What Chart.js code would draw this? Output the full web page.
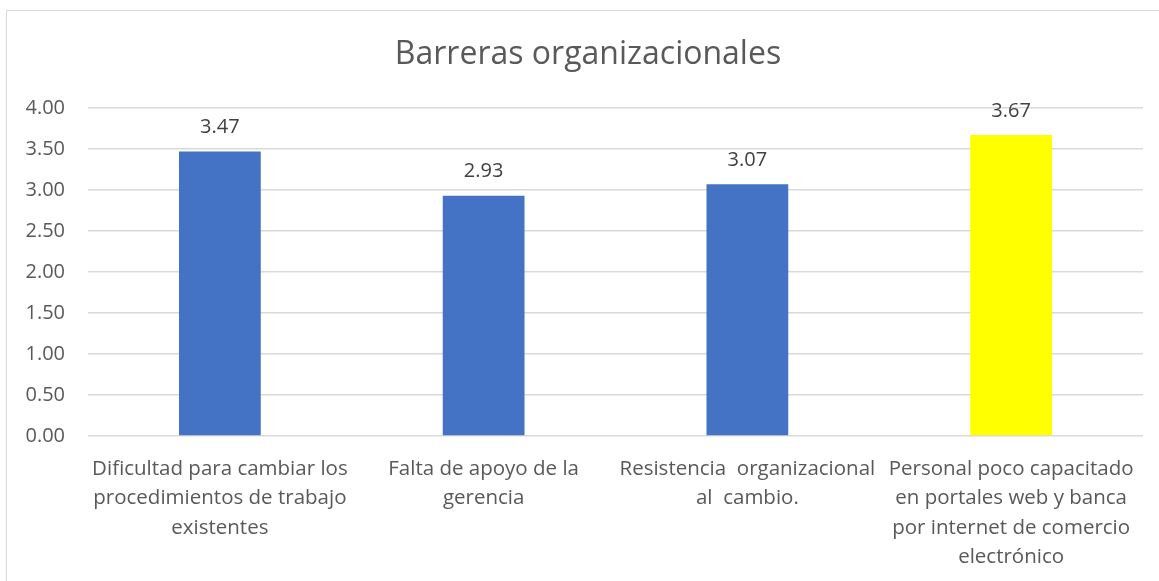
<!DOCTYPE html>
<html>
<head>
<meta charset="utf-8">
<script src="https://cdn.jsdelivr.net/npm/chart.js@4.4.1/dist/chart.umd.min.js"></script>
<style>
    html, body { margin: 0; padding: 0; background: #fff; overflow: hidden; }
    #frame {
        position: absolute; left: 6px; top: 10px; width: 1200px; height: 600px;
        border-left: 1px solid #d9d9d9; border-top: 1px solid #d9d9d9;
    }
    #wrap { position: absolute; left: 0; top: 0; width: 1159px; height: 581px; }
</style>
</head>
<body>
<div id="frame"></div>
<div id="wrap"><canvas id="chart"></canvas></div>
<script>
// Data
var chartTitle = 'Barreras organizacionales';
var categories = [
    ['Dificultad para cambiar los', 'procedimientos de trabajo', 'existentes'],
    ['Falta de apoyo de la', 'gerencia'],
    ['Resistencia  organizacional', 'al  cambio.'],
    ['Personal poco capacitado', 'en portales web y banca', 'por internet de comercio', 'electrónico']
];
var values = [3.47, 2.93, 3.07, 3.67];
var barColors = ['#4472c4', '#4472c4', '#4472c4', '#ffff00'];
var yTicks = [0, 0.5, 1, 1.5, 2, 2.5, 3, 3.5, 4];

var FONT = '"Open Sans", sans-serif';
var TEXT = '#595959';

// value labels above the bars
var valueLabels = {
    id: 'valueLabels',
    afterDatasetsDraw: function(chart) {
        var ctx = chart.ctx;
        var meta = chart.getDatasetMeta(0);
        ctx.save();
        ctx.font = '20px ' + FONT;
        ctx.fillStyle = '#404040';
        ctx.textAlign = 'center';
        ctx.textBaseline = 'middle';
        meta.data.forEach(function(bar, i) {
            ctx.fillText(values[i].toFixed(2), bar.x, bar.y - 24);
        });
        ctx.restore();
    }
};

// title centred on the whole frame rather than the plot
var frameTitle = {
    id: 'frameTitle',
    afterDraw: function(chart) {
        var ctx = chart.ctx;
        ctx.save();
        ctx.font = '32px ' + FONT;
        ctx.fillStyle = TEXT;
        ctx.textAlign = 'center';
        ctx.textBaseline = 'middle';
        ctx.fillText(chartTitle, 588, 55);
        ctx.restore();
    }
};

new Chart(document.getElementById('chart'), {
    type: 'bar',
    data: {
        labels: categories,
        datasets: [{
            data: values,
            backgroundColor: barColors,
            categoryPercentage: 1,
            barPercentage: 0.31
        }]
    },
    options: {
        responsive: true,
        maintainAspectRatio: false,
        animation: false,
        layout: { padding: { left: 0, right: 16, top: 108, bottom: 0 } },
        plugins: {
            legend: { display: false },
            tooltip: { enabled: false },
            title: { display: false }
        },
        scales: {
            x: {
                grid: { display: false, drawTicks: false },
                border: { display: false },
                ticks: {
                    color: TEXT,
                    font: { family: FONT, size: 20.5, lineHeight: 1.44 },
                    padding: 18,
                    maxRotation: 0,
                    autoSkip: false
                },
                afterFit: function(scale) { scale.height = 145; }
            },
            y: {
                min: 0,
                max: 4,
                afterBuildTicks: function(scale) {
                    scale.ticks = yTicks.map(function(v) { return { value: v }; });
                },
                grid: { color: '#d9d9d9', lineWidth: 1.5, drawTicks: false },
                border: { display: false },
                ticks: {
                    color: TEXT,
                    font: { family: FONT, size: 20 },
                    padding: 23,
                    callback: function(v) { return Number(v).toFixed(2); }
                },
                afterFit: function(scale) { scale.width = 88; }
            }
        }
    },
    plugins: [valueLabels, frameTitle]
});
</script>
</body>
</html>
